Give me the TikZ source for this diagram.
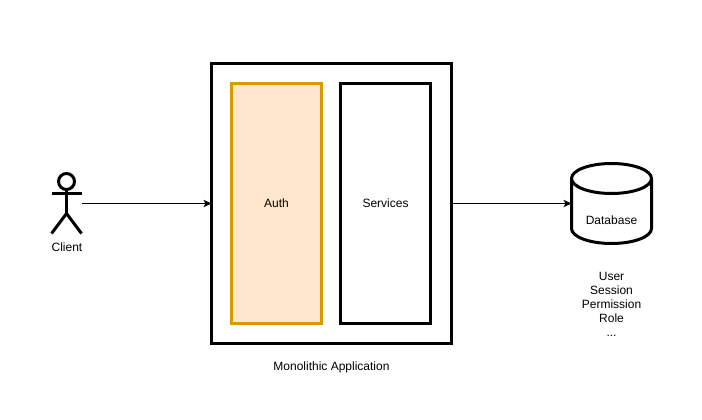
\documentclass[tikz,border=0pt]{standalone}
\usepackage{fontspec}
\setmainfont{Liberation Sans}
\usetikzlibrary{arrows.meta}
\tikzset{
    box/.style={draw,line width=2.25pt,inner sep=0pt,outer sep=0pt,minimum width=#1*0.75pt},
    lbl/.style={inner sep=0pt,align=center,font=\fontsize{9}{10.5}\selectfont},
    link/.style={line width=0.75pt,-{Stealth[length=6pt,width=5.5pt,inset=1.5pt]}},
    stroke/.style={line width=2.25pt}
}
\begin{document}
\begin{tikzpicture}[x=0.75pt,y=-0.75pt]
        \useasboundingbox (-0.5,-0.5) rectangle (701.5,419.5);
        %% Application
        \node[box=240,minimum height=210pt] (mono) at (331,203) {};
        \node[box=90,minimum height=180pt,draw={rgb,255:red,215;green,155;blue,0},fill={rgb,255:red,255;green,230;blue,204},lbl] (auth) at (276,203) {Auth};
        \node[box=90,minimum height=180pt,lbl] (services) at (385,203) {Services};
        \node[lbl] (monotext) at (331,367) {Monolithic Application};
        %% Client
        \node[inner sep=0pt,outer sep=0pt,minimum width=22.5pt,minimum height=45pt] (client) at (66,203) {};
        \draw[stroke] (66,181) circle (8);
        \draw[stroke] (66,189) -- (66,213) (51,193) -- (81,193);
        \draw[stroke] (51,233) -- (66,213) -- (81,233);
        \node[lbl] (clienttext) at (66.5,246.5) {Client};
        %% Database
        \node[inner sep=0pt,outer sep=0pt,minimum width=60pt,minimum height=60pt] (db) at (611,203) {};
        \draw[stroke] (571,178) arc (180:360:40 and 15) -- (651,228) arc (0:180:40 and 15) -- cycle;
        \draw[stroke] (571,178) arc (180:0:40 and 15);
        \node[lbl] (dbtext) at (611,219.5) {Database};
        \node[lbl] (tables) at (611,303.5) {User\\Session\\Permission\\Role\\...};
        %% Links
        \draw[link] (client) -- (mono);
        \draw[link] (mono) -- (db);
    \end{tikzpicture}
\end{document}
